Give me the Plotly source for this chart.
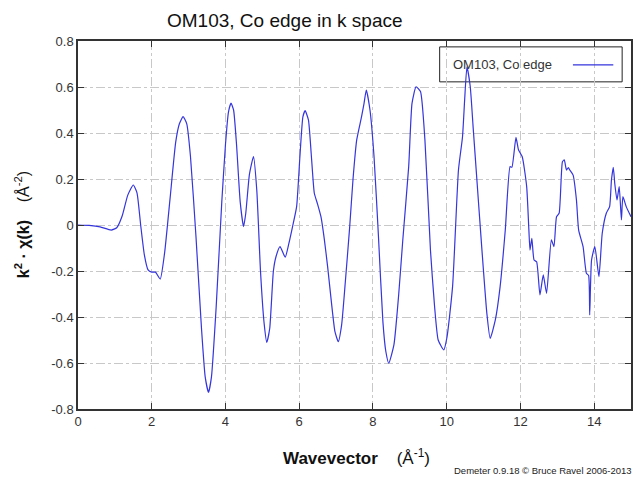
import plotly.graph_objects as go

# EXAFS k^2-weighted chi(k) for the OM103 sample, Co K edge
k = [0.0, 0.3, 0.6, 0.9, 1.05, 1.2, 1.35, 1.5, 1.6, 1.7, 1.8, 1.9, 2.0, 2.1, 2.23,
     2.35, 2.5, 2.65, 2.75, 2.85, 2.95, 3.05, 3.2, 3.35, 3.45, 3.54, 3.62, 3.75,
     3.9, 4.0, 4.08, 4.15, 4.22, 4.3, 4.4, 4.49, 4.55, 4.65, 4.76, 4.85, 4.95,
     5.05, 5.12, 5.2, 5.3, 5.37, 5.48, 5.62, 5.72, 5.82, 5.93, 6.02, 6.1, 6.16,
     6.25, 6.33, 6.41, 6.5, 6.59, 6.68, 6.77, 6.87, 6.97, 7.06, 7.15, 7.25, 7.37,
     7.46, 7.56, 7.69, 7.76, 7.82, 7.92, 8.03, 8.15, 8.27, 8.35, 8.43, 8.57, 8.7,
     8.81, 8.97, 9.06, 9.17, 9.29, 9.41, 9.56, 9.67, 9.77, 9.92, 10.01, 10.16,
     10.32, 10.43, 10.49, 10.55, 10.64, 10.72, 10.82, 10.95, 11.09, 11.18, 11.32,
     11.45, 11.59, 11.72, 11.77, 11.88, 11.95, 12.05, 12.17, 12.23, 12.26, 12.31,
     12.37, 12.44, 12.53, 12.62, 12.71, 12.84, 12.91, 12.98, 13.05, 13.14, 13.19,
     13.25, 13.3, 13.34, 13.43, 13.52, 13.58, 13.7, 13.79, 13.85, 13.88, 13.93,
     14.02, 14.13, 14.22, 14.33, 14.42, 14.47, 14.52, 14.56, 14.62, 14.68, 14.74,
     14.78, 14.87, 15.0]
chi_k2 = [0.0, -0.002, -0.008, -0.022, -0.012, 0.04, 0.13, 0.174, 0.14, 0.0, -0.13,
          -0.195, -0.205, -0.205, -0.235, -0.12, 0.12, 0.36, 0.44, 0.471, 0.44, 0.3,
          -0.05, -0.45, -0.66, -0.727, -0.66, -0.35, 0.1, 0.35, 0.49, 0.53, 0.5, 0.35,
          0.1, -0.007, 0.05, 0.22, 0.297, 0.15, -0.2, -0.43, -0.51, -0.45, -0.2,
          -0.138, -0.094, -0.14, -0.08, -0.007, 0.08, 0.3, 0.47, 0.497, 0.457, 0.3,
          0.138, 0.09, 0.036, -0.06, -0.18, -0.33, -0.464, -0.507, -0.435, -0.25,
          -0.007, 0.2, 0.37, 0.47, 0.53, 0.587, 0.5, 0.297, -0.05, -0.42, -0.55,
          -0.601, -0.52, -0.3, -0.065, 0.254, 0.529, 0.601, 0.58, 0.37, -0.109,
          -0.35, -0.5, -0.543, -0.486, -0.268, 0.239, 0.384, 0.55, 0.688, 0.601,
          0.42, 0.196, -0.094, -0.384, -0.493, -0.413, -0.268, -0.022, 0.254, 0.251,
          0.381, 0.326, 0.297, 0.167, -0.022, -0.109, -0.058, -0.152, -0.16, -0.304,
          -0.217, -0.297, -0.065, -0.094, 0.036, 0.051, 0.275, 0.283, 0.239, 0.25,
          0.239, 0.217, 0.109, -0.022, -0.094, -0.21, -0.22, -0.391, -0.152, -0.094,
          -0.225, -0.036, 0.051, 0.08, 0.196, 0.251, 0.18, 0.109, 0.167, 0.022,
          0.123, 0.08, 0.036]

series_name = "OM103, Co edge"
title_text = "OM103, Co edge in k space"
x_ticks = [0, 2, 4, 6, 8, 10, 12, 14]
y_ticks = [-0.8, -0.6, -0.4, -0.2, 0, 0.2, 0.4, 0.6, 0.8]

LINE_COLOR = "#3535dc"
FONT = "Liberation Sans, Arial, sans-serif"

fig = go.Figure()
fig.add_trace(go.Scatter(x=k, y=chi_k2, mode="lines", name=series_name,
                         line=dict(color=LINE_COLOR, width=1.2,
                                   shape="spline", smoothing=0.5),
                         showlegend=False))

axis_common = dict(
    showline=True, linecolor="#333333", linewidth=1.5, mirror="allticks",
    ticks="inside", ticklen=6, tickcolor="#333333", tickwidth=1,
    showgrid=True, gridcolor="#c8c8c8", gridwidth=1, griddash="dashdot",
    zeroline=False, tickfont=dict(family=FONT, size=13, color="#333333"),
)

fig.update_xaxes(range=[0, 15], tickvals=x_ticks, **axis_common)
fig.update_yaxes(range=[-0.8, 0.8], tickvals=y_ticks,
                 ticktext=[("%g" % v) for v in y_ticks], **axis_common)

annotations = [
    dict(text=title_text, x=0.375, y=1.057, xref="paper", yref="paper",
         showarrow=False, font=dict(family=FONT, size=19, color="#111111"),
         xanchor="center", yanchor="middle"),
    dict(text="<b>k<sup>2</sup> · χ(k)</b>    (Å<sup>-2</sup>)", x=-0.101, y=0.5,
         xref="paper", yref="paper", showarrow=False, textangle=-90,
         font=dict(family=FONT, size=16, color="#111111"),
         xanchor="center", yanchor="middle"),
    dict(text="<b>Wavevector</b>    (Å<sup>-1</sup>)", x=0.503, y=-0.13,
         xref="paper", yref="paper", showarrow=False,
         font=dict(family=FONT, size=17, color="#111111"),
         xanchor="center", yanchor="middle"),
    dict(text="Demeter 0.9.18 © Bruce Ravel 2006-2013", x=1.005, y=-0.166,
         xref="paper", yref="paper", showarrow=False,
         font=dict(family=FONT, size=9.5, color="#222222"),
         xanchor="right", yanchor="middle"),
    # legend entry: label followed by a line sample
    dict(text=series_name, x=0.674, y=0.935, xref="paper", yref="paper",
         showarrow=False, font=dict(family=FONT, size=13, color="#333333"),
         xanchor="left", yanchor="middle"),
]

shapes = [
    dict(type="rect", xref="paper", yref="paper", x0=0.654, x1=0.984,
         y0=0.889, y1=0.984, line=dict(color="#222222", width=1),
         fillcolor="white", layer="between"),
    dict(type="line", xref="paper", yref="paper", x0=0.895, x1=0.968,
         y0=0.935, y1=0.935, line=dict(color=LINE_COLOR, width=1.2)),
]

fig.update_layout(
    width=642, height=479,
    margin=dict(l=78, r=9, t=41, b=70),
    paper_bgcolor="white", plot_bgcolor="white",
    font=dict(family=FONT),
    annotations=annotations, shapes=shapes,
)

fig.write_html("out.html")
